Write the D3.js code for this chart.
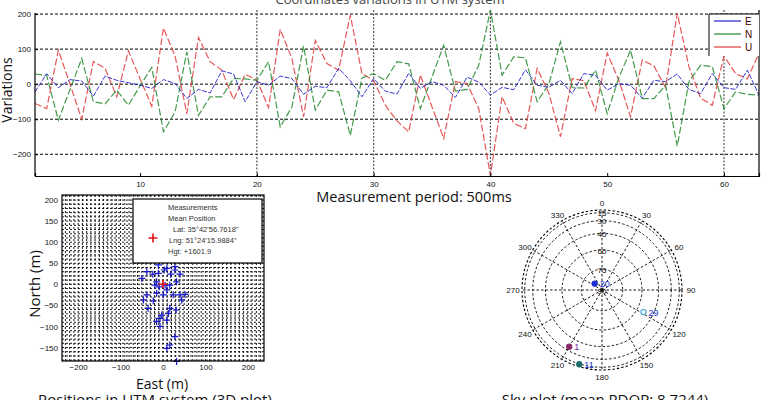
<!DOCTYPE html>
<html><head><meta charset="utf-8">
<script src="https://cdn.jsdelivr.net/npm/d3@7/dist/d3.min.js"></script>
<style>
html,body{margin:0;padding:0;background:#fff;}
svg{display:block;}
</style></head>
<body>
<svg id="c" width="761" height="400"></svg>
<script>
// ---------- data ----------
const epochs = d3.range(1, 64);
const seriesNames = ["E", "N", "U"];
const seriesE = [-22,30,-10,13,9,-34,23,11,4,-3,-12,13,2,-41,-15,-25,38,29,-50,7,-3,23,16,-29,-6,-10,45,10,-36,16,-20,-28,31,-12,7,-3,-38,20,6,-31,-9,-16,41,-3,-9,11,-27,30,25,-17,1,-3,-40,11,7,29,-15,-27,30,-10,-15,40,-31];
const seriesN = [29,25,-103,-15,73,-50,-56,-17,-60,-5,48,-136,-79,92,-89,-36,-36,16,15,11,64,-122,-65,109,-74,-17,-22,-146,18,30,11,64,58,-70,21,111,-20,-15,54,211,26,78,75,-50,0,121,-10,-11,40,-84,19,97,-41,-41,-3,-177,7,54,50,-70,-22,-29,-31];
const seriesU = [-55,-70,97,0,-100,65,45,-36,95,15,-63,160,80,-84,133,64,40,-44,28,12,-67,156,73,-93,125,59,40,197,30,10,-60,-105,-136,26,-65,-155,7,2,-70,-260,-36,-112,-127,45,-25,-150,16,10,-76,89,11,-93,69,52,-10,202,50,-40,-60,80,30,15,88];
const topXTicks = [10, 20, 30, 40, 50, 60];
const topYTicks = [200, 100, 0, -100, -200];
const topVGrid = [20, 30, 40, 60];

const posEast  = [-50,-38,-24,-11,3,9,18,28,40,-11,28,-15,-19,-9,5,16,32,-38,-15,1,9,24,40,52,44,-46,-23,-35,16,31,13,-3,-7,9,-15,-7,28,16,9,32];
const posNorth = [14,30,24,26,34,38,24,34,24,46,42,6,-2,-6,-2,-2,6,-25,-21,-25,-13,-25,-25,-24,-37,-37,-39,-57,-57,-61,-69,-73,-81,-85,-88,-100,-124,-144,-152,-183];
const posXTicks = [-200, -100, 0, 100, 200];
const posYTicks = [200, 150, 100, 50, 0, -50, -100, -150];
const legendLines = ["Measurements", "Mean Position", "Lat: 35\u00b042'56.7618''", "Lng: 51\u00b024'15.9884''", "Hgt: +1601.9"];

const skyAzTicks = [0,30,60,90,120,150,180,210,240,270,300,330];
const skyAzLabels = ["0","30","60","90","120","150","180","210","240","270","300","330"];
const skyElTicks = [15, 30, 45, 60, 75, 90];
const satIds = ["20", "29", "1", "11"];
const satAz = [311, 118, 210, 197];
const satEl = [83, 54, 35, 14];
const satColors = ["#1f2fd0", "#3aa0dd", "#8a2a6a", "#1d6d6a"];

// ---------- drawing ----------
const svg = d3.select("#c");
const FONT = "'Open Sans', 'DejaVu Sans', sans-serif";
const SMALL = "'Liberation Sans', Arial, sans-serif";

// ===== Top chart =====
const xT = d3.scaleLinear().domain([1, 63]).range([35, 759]);
const yT = d3.scaleLinear().domain([-262, 203]).range([176, 13]);
const gT = svg.append("g");

gT.append("text").attr("x", 390).attr("y", 4).attr("text-anchor", "middle")
  .attr("font-family", FONT).attr("font-size", 13).attr("fill", "#444")
  .text("Coordinates variations in UTM system");

gT.selectAll(".hg").data(topYTicks).join("line")
  .attr("x1", xT(1)).attr("x2", xT(63))
  .attr("y1", d => yT(d)).attr("y2", d => yT(d))
  .attr("stroke", "#000").attr("stroke-width", 1).attr("stroke-dasharray", "3,2");
gT.selectAll(".vg").data(topVGrid).join("line")
  .attr("x1", d => xT(d)).attr("x2", d => xT(d))
  .attr("y1", 10).attr("y2", yT(-262))
  .attr("stroke", "#555").attr("stroke-width", 1.2).attr("stroke-dasharray", "2,1.5");

svg.append("clipPath").attr("id", "clipT").append("rect")
  .attr("x", xT(1)).attr("y", 5).attr("width", xT(63) - xT(1)).attr("height", yT(-262) - 5);

const line = d3.line().x((d, i) => xT(epochs[i])).y(d => yT(d));
const lineG = gT.append("g").attr("clip-path", "url(#clipT)");
lineG.append("path").attr("d", line(seriesU)).attr("fill", "none")
  .attr("stroke", "#e23a3a").attr("stroke-opacity", 0.85).attr("stroke-width", 1.2).attr("stroke-dasharray", "7,2.5");
lineG.append("path").attr("d", line(seriesN)).attr("fill", "none")
  .attr("stroke", "#22882a").attr("stroke-opacity", 0.85).attr("stroke-width", 1.2).attr("stroke-dasharray", "7,2.5");
lineG.append("path").attr("d", line(seriesE)).attr("fill", "none")
  .attr("stroke", "#2222cc").attr("stroke-opacity", 0.9).attr("stroke-width", 1).attr("stroke-dasharray", "5,1.5");

const axB = gT.append("g").attr("transform", `translate(0,${yT(-262)})`)
  .call(d3.axisBottom(xT).tickValues(topXTicks).tickSize(-3).tickPadding(5));
const axL = gT.append("g").attr("transform", `translate(${xT(1)},0)`)
  .call(d3.axisLeft(yT).tickValues(topYTicks).tickSize(-3).tickPadding(4));
[axB, axL].forEach(a => {
  a.selectAll("path.domain").attr("stroke", "#000").attr("stroke-width", 1.2);
  a.selectAll("text").attr("font-family", SMALL).attr("font-size", 8).attr("fill", "#111");
  a.selectAll(".tick line").attr("stroke", "#000");
});
axL.select("path.domain").attr("d", `M0,${yT(203)}V${yT(-262)}`);
gT.append("line").attr("x1", xT(63)).attr("x2", xT(63)).attr("y1", 10).attr("y2", yT(-262))
  .attr("stroke", "#000").attr("stroke-width", 1.2);

gT.append("text").attr("transform", `translate(12,${90}) rotate(-90)`).attr("text-anchor", "middle")
  .attr("font-family", FONT).attr("font-size", 14).attr("fill", "#111").text("Variations");
gT.append("text").attr("x", 414).attr("y", 202).attr("text-anchor", "middle")
  .attr("font-family", FONT).attr("font-size", 14.5).attr("fill", "#111").text("Measurement period: 500ms");

const lg = gT.append("g");
lg.append("rect").attr("x", 709).attr("y", 14).attr("width", 50).attr("height", 42).attr("fill", "#fff").attr("stroke", "none");
lg.append("path").attr("d", "M709,56V14H759").attr("fill", "none").attr("stroke", "#000").attr("stroke-width", 1);
const lgColors = ["#2222cc", "#22882a", "#e23a3a"];
seriesNames.forEach((n, i) => {
  const y = 21 + i * 13;
  lg.append("line").attr("x1", 714).attr("x2", 741).attr("y1", y).attr("y2", y).attr("stroke", lgColors[i]).attr("stroke-width", 1.2);
  lg.append("text").attr("x", 745).attr("y", y + 3.5).attr("font-family", SMALL).attr("font-size", 10).attr("fill", "#400").text(n);
});

// ===== Position scatter =====
const xS = d3.scaleLinear().domain([-238, 238]).range([62, 264]);
const yS = d3.scaleLinear().domain([-182, 212]).range([361, 195]);
const gS = svg.append("g");
const gridX = d3.range(-230, 240, 10);
const gridY = d3.range(-180, 220, 10);
gS.selectAll(".gx").data(gridX).join("line")
  .attr("x1", d => xS(d)).attr("x2", d => xS(d)).attr("y1", 195).attr("y2", 361)
  .attr("stroke", "#000").attr("stroke-width", 0.9).attr("stroke-dasharray", "2,2");
gS.selectAll(".gy").data(gridY).join("line")
  .attr("y1", d => yS(d)).attr("y2", d => yS(d)).attr("x1", 62).attr("x2", 264)
  .attr("stroke", "#000").attr("stroke-width", 0.9).attr("stroke-dasharray", "2,2");

const plus = (g, x, y, s, col, w) => {
  g.append("path").attr("d", `M${x - s},${y}H${x + s}M${x},${y - s}V${y + s}`)
    .attr("stroke", col).attr("stroke-width", w).attr("fill", "none");
};
const ptsG = gS.append("g");
posEast.forEach((e, i) => plus(ptsG, xS(e), yS(posNorth[i]), 3.5, "#1a1acc", 1.2));
plus(ptsG, xS(0), yS(0), 4.5, "#e01010", 1.6);

gS.append("rect").attr("x", 62).attr("y", 195).attr("width", 202).attr("height", 166)
  .attr("fill", "none").attr("stroke", "#000").attr("stroke-width", 1.2);
const sxAx = gS.append("g").attr("transform", "translate(0,361)")
  .call(d3.axisBottom(xS).tickValues(posXTicks).tickSize(0).tickPadding(3));
const syAx = gS.append("g").attr("transform", "translate(62,0)")
  .call(d3.axisLeft(yS).tickValues(posYTicks).tickSize(0).tickPadding(4));
[sxAx, syAx].forEach(a => {
  a.select("path.domain").remove();
  a.selectAll("text").attr("font-family", SMALL).attr("font-size", 8).attr("fill", "#111");
});

const sl = gS.append("g");
sl.append("rect").attr("x", 133).attr("y", 199).attr("width", 129).attr("height", 64)
  .attr("fill", "#fff").attr("stroke", "#000").attr("stroke-width", 1.2);
const lx = [168, 168, 173, 169, 168];
const ly = [210, 221, 232, 243, 254];
legendLines.forEach((t, i) => {
  sl.append("text").attr("x", lx[i]).attr("y", ly[i]).attr("font-family", SMALL)
    .attr("font-size", 7.5).attr("fill", "#333").text(t);
});
plus(sl, 153, 238, 4.5, "#e01010", 1.6);

gS.append("text").attr("transform", "translate(40,284) rotate(-90)").attr("text-anchor", "middle")
  .attr("font-family", FONT).attr("font-size", 15).attr("fill", "#111").text("North (m)");
gS.append("text").attr("x", 162).attr("y", 389).attr("text-anchor", "middle")
  .attr("font-family", FONT).attr("font-size", 14).attr("fill", "#111").text("East (m)");
gS.append("text").attr("x", 155).attr("y", 405).attr("text-anchor", "middle")
  .attr("font-family", FONT).attr("font-size", 15).attr("fill", "#111").text("Positions in UTM system (3D plot)");

// ===== Sky plot =====
const cx = 602, cy = 290, R = 80;
const rEl = d3.scaleLinear().domain([0, 1]).range([0, R]);
const rad = el => rEl(Math.cos(el * Math.PI / 180));
const gK = svg.append("g");
const ringEls = [0].concat(skyElTicks.slice(0, 5));
gK.selectAll(".ring").data(ringEls).join("circle")
  .attr("cx", cx).attr("cy", cy).attr("r", d => rad(d)).attr("fill", "none")
  .attr("stroke", "#000").attr("stroke-width", d => d === 0 ? 1.1 : 0.9).attr("stroke-dasharray", "2.5,2");
gK.selectAll(".spoke").data(skyAzTicks).join("line")
  .attr("x1", cx).attr("y1", cy)
  .attr("x2", d => cx + R * Math.sin(d * Math.PI / 180))
  .attr("y2", d => cy - R * Math.cos(d * Math.PI / 180))
  .attr("stroke", "#000").attr("stroke-width", 0.9).attr("stroke-dasharray", "2.5,2");
gK.selectAll(".azl").data(skyAzTicks).join("text")
  .attr("x", d => cx + 89 * Math.sin(d * Math.PI / 180))
  .attr("y", d => cy - 87 * Math.cos(d * Math.PI / 180) + 3)
  .attr("text-anchor", "middle").attr("font-family", SMALL).attr("font-size", 8).attr("fill", "#111")
  .text((d, i) => skyAzLabels[i]);
gK.selectAll(".ell").data(skyElTicks).join("text")
  .attr("x", cx).attr("y", d => cy - rad(d) + 3.5)
  .attr("text-anchor", "middle").attr("font-family", SMALL).attr("font-size", 8).attr("fill", "#111")
  .text(d => d);
satIds.forEach((id, i) => {
  const r = rad(satEl[i]);
  const a = satAz[i] * Math.PI / 180;
  const x = cx + r * Math.sin(a), y = cy - r * Math.cos(a);
  gK.append("circle").attr("cx", x).attr("cy", y).attr("r", 2.6)
    .attr("fill", i === 1 ? "#fff" : satColors[i]).attr("stroke", satColors[i]).attr("stroke-width", 1.1);
  gK.append("text").attr("x", x + 5).attr("y", y + 3.5).attr("font-family", SMALL).attr("font-size", 9)
    .attr("fill", i === 2 ? "#6a2a9a" : "#2233cc").text(id);
});
gK.append("text").attr("x", 605).attr("y", 405).attr("text-anchor", "middle")
  .attr("font-family", FONT).attr("font-size", 15).attr("fill", "#111").text("Sky plot (mean PDOP: 8.7244)");
</script>
</body></html>
